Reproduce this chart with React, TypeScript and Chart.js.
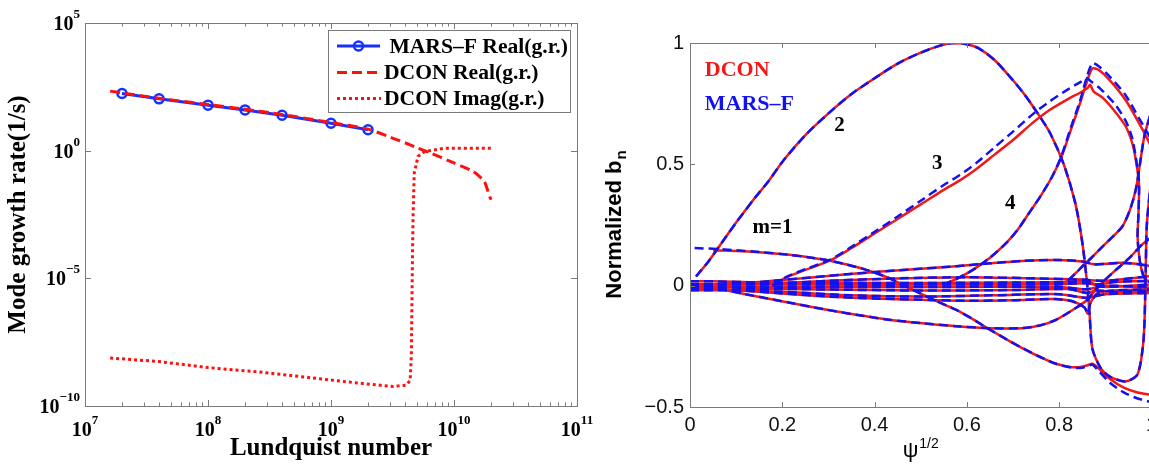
import React, { useEffect, useRef } from 'react';
import { Chart, registerables } from 'chart.js';

Chart.register(...registerables);

// ---------------- Left panel data ----------------
const marsLundquist = [2e7, 4e7, 1e8, 2e8, 4e8, 1e9, 2e9];
const marsRealRate = [173, 107, 60.4, 39.5, 24.5, 11.9, 6.57];

const dconRealLundquist = [1.6e7, 2e7, 4e7, 1e8, 2e8, 4e8, 1e9, 2e9, 3.2e9, 4.4e9, 5e9, 6.3e9, 1e10, 1.43e10, 1.76e10, 1.95e10, 2e10];
const dconRealRate = [215, 182, 113, 64, 42, 26, 12.7, 7.0, 3.05, 1.7, 1.3, 0.85, 0.33, 0.154, 0.063, 0.016, 0.012];

const dconImagLundquist = [1.6e7, 4e7, 1e8, 2.5e8, 9e8, 1.7e9, 3.2e9, 4.1e9, 4.4e9, 4.5e9, 4.55e9, 4.6e9, 4.65e9, 4.75e9, 5.1e9, 5.8e9, 8.3e9, 2e10];
const dconImagRate = [7.6e-9, 5.5e-9, 3.2e-9, 2.2e-9, 1.1e-9, 7.8e-10, 5.8e-10, 6.6e-10, 1.0e-9, 1e-8, 1e-6, 1e-4, 3e-3, 0.13, 0.6, 0.93, 1.25, 1.25];

const leftXDecades = [1e7, 1e8, 1e9, 1e10, 1e11];
const leftYDecades = [1e-10, 1e-5, 1, 1e5];
const leftLegendLabels = [' MARS\u2013F Real(g.r.)', 'DCON Real(g.r.)', 'DCON Imag(g.r.)'];

// ---------------- Right panel data (psi^1/2, normalized b_n) ----------------
const m1Dcon: number[][] = [[0.05, 0.145], [0.1, 0.143], [0.15, 0.138], [0.216, 0.127], [0.26, 0.116], [0.303, 0.103], [0.34, 0.087], [0.382, 0.065], [0.42, 0.04], [0.447, 0.017], [0.49, -0.024], [0.53, -0.06], [0.577, -0.1], [0.61, -0.135], [0.649, -0.18], [0.685, -0.22], [0.72, -0.257], [0.76, -0.295], [0.793, -0.322], [0.828, -0.336], [0.85, -0.334], [0.862, -0.328], [0.872, -0.322], [0.885, -0.34], [0.91, -0.385], [0.94, -0.42], [0.97, -0.44], [1.0, -0.45]];
const m1Mars: number[][] = [[0.01, 0.155], [0.05, 0.152], [0.1, 0.146], [0.15, 0.139], [0.216, 0.127], [0.26, 0.116], [0.303, 0.103], [0.34, 0.087], [0.382, 0.065], [0.42, 0.04], [0.447, 0.017], [0.49, -0.024], [0.53, -0.06], [0.577, -0.1], [0.61, -0.135], [0.649, -0.18], [0.685, -0.22], [0.72, -0.257], [0.76, -0.295], [0.793, -0.322], [0.828, -0.338], [0.85, -0.338], [0.862, -0.332], [0.872, -0.325], [0.885, -0.35], [0.91, -0.4], [0.94, -0.44], [0.97, -0.465], [1.0, -0.48]];
const m2Both: number[][] = [[0.013, 0.038], [0.04, 0.1], [0.07, 0.18], [0.1, 0.26], [0.14, 0.36], [0.17, 0.43], [0.2, 0.51], [0.25, 0.62], [0.3, 0.71], [0.35, 0.79], [0.4, 0.855], [0.45, 0.915], [0.5, 0.96], [0.54, 0.988], [0.57, 1.0], [0.6, 0.995], [0.625, 0.979], [0.66, 0.93], [0.69, 0.868], [0.72, 0.8], [0.75, 0.72], [0.78, 0.63], [0.81, 0.5], [0.835, 0.34], [0.85, 0.18], [0.86, 0.02], [0.866, -0.12], [0.872, -0.26], [0.89, -0.34], [0.91, -0.375], [0.944, -0.395], [0.97, -0.365], [0.983, -0.22], [0.987, 0.0], [0.99, 0.25], [1.0, 0.45]];
const m3Dcon: number[][] = [[0.178, 0.0], [0.21, 0.035], [0.25, 0.065], [0.303, 0.103], [0.35, 0.155], [0.4, 0.215], [0.45, 0.275], [0.5, 0.335], [0.55, 0.395], [0.584, 0.433], [0.62, 0.48], [0.66, 0.54], [0.7, 0.6], [0.745, 0.675], [0.78, 0.725], [0.82, 0.77], [0.845, 0.795], [0.862, 0.815], [0.867, 0.828], [0.875, 0.8], [0.894, 0.775], [0.92, 0.72], [0.944, 0.657], [0.958, 0.59], [0.966, 0.52], [0.973, 0.42], [0.972, 0.3], [0.97, 0.2], [0.975, 0.1], [0.985, 0.03], [1.0, 0.01]];
const m3Mars: number[][] = [[0.178, 0.0], [0.21, 0.037], [0.25, 0.068], [0.303, 0.106], [0.35, 0.16], [0.4, 0.222], [0.45, 0.285], [0.5, 0.35], [0.55, 0.415], [0.584, 0.455], [0.62, 0.505], [0.66, 0.57], [0.7, 0.635], [0.745, 0.71], [0.78, 0.76], [0.82, 0.81], [0.845, 0.838], [0.86, 0.855], [0.87, 0.84], [0.89, 0.81], [0.92, 0.75], [0.944, 0.68], [0.958, 0.61], [0.966, 0.53], [0.973, 0.43], [0.972, 0.3], [0.97, 0.2], [0.975, 0.1], [0.985, 0.03], [1.0, 0.01]];
const m4Dcon: number[][] = [[0.548, 0.003], [0.58, 0.03], [0.613, 0.065], [0.65, 0.115], [0.685, 0.175], [0.71, 0.23], [0.735, 0.3], [0.76, 0.37], [0.785, 0.45], [0.805, 0.53], [0.825, 0.64], [0.845, 0.75], [0.86, 0.84], [0.872, 0.895], [0.885, 0.89], [0.908, 0.85], [0.944, 0.765], [0.973, 0.67], [0.99, 0.61], [1.0, 0.57]];
const m4Mars: number[][] = [[0.548, 0.003], [0.58, 0.03], [0.613, 0.065], [0.65, 0.115], [0.685, 0.175], [0.71, 0.23], [0.735, 0.3], [0.76, 0.37], [0.785, 0.45], [0.805, 0.535], [0.825, 0.65], [0.845, 0.76], [0.86, 0.86], [0.872, 0.917], [0.885, 0.905], [0.908, 0.865], [0.944, 0.785], [0.973, 0.69], [0.99, 0.635], [1.0, 0.6]];
const lowA: number[][] = [[0, -0.005], [0.058, -0.012], [0.12, -0.035], [0.216, -0.07], [0.29, -0.097], [0.36, -0.12], [0.43, -0.14], [0.504, -0.155], [0.577, -0.167], [0.649, -0.175], [0.72, -0.175], [0.76, -0.163], [0.793, -0.141], [0.836, -0.092], [0.86, -0.06], [0.879, -0.017], [0.9, 0.025], [0.92, 0.06], [0.95, 0.11], [0.98, 0.17], [1.0, 0.2]];
const lowB: number[][] = [[0, -0.008], [0.1, -0.018], [0.2, -0.032], [0.3, -0.045], [0.4, -0.053], [0.5, -0.058], [0.6, -0.062], [0.7, -0.06], [0.79, -0.055], [0.83, -0.065], [0.855, -0.09], [0.862, -0.115], [0.868, -0.07], [0.885, -0.03], [0.92, -0.02], [1.0, -0.015]];
const lowC: number[][] = [[0, -0.012], [0.1, -0.02], [0.2, -0.025], [0.35, -0.04], [0.5, -0.045], [0.65, -0.04], [0.8, -0.035], [0.86, -0.05], [0.9, -0.035], [1.0, -0.03]];
const upA: number[][] = [[0, 0.005], [0.1, 0.008], [0.18, 0.02], [0.27, 0.035], [0.36, 0.05], [0.47, 0.066], [0.577, 0.08], [0.65, 0.092], [0.72, 0.102], [0.793, 0.106], [0.85, 0.1], [0.875, 0.088], [0.9, 0.09], [0.93, 0.094], [0.966, 0.09], [1.0, 0.08]];
const upB: number[][] = [[0, 0.004], [0.18, 0.008], [0.3, 0.02], [0.45, 0.03], [0.6, 0.035], [0.75, 0.03], [0.85, 0.025], [0.9, 0.02], [1.0, 0.04]];
const riseR: number[][] = [[0.79, 0.005], [0.814, 0.015], [0.835, 0.05], [0.85, 0.079], [0.87, 0.115], [0.894, 0.161], [0.915, 0.2], [0.937, 0.244], [0.953, 0.31], [0.966, 0.395], [0.975, 0.5], [0.985, 0.62], [1.0, 0.72]];
const band1: number[][] = [[0, 0.018], [0.05, 0.018], [0.15, 0.013], [0.3, 0.012], [0.5, 0.011], [0.7, 0.013], [0.82, 0.015], [0.86, 0.02], [0.88, 0.005], [0.92, 0.015], [1.0, 0.02]];
const band2: number[][] = [[0, 0.006], [0.2, 0.005], [0.4, 0.004], [0.6, 0.005], [0.8, 0.006], [0.86, 0.01], [0.9, -0.005], [1.0, 0.005]];
const band3: number[][] = [[0, -0.006], [0.2, -0.005], [0.4, -0.006], [0.6, -0.005], [0.8, -0.005], [0.86, -0.015], [0.9, 0.0], [1.0, -0.008]];
const band4: number[][] = [[0, -0.019], [0.05, -0.019], [0.15, -0.013], [0.3, -0.016], [0.5, -0.02], [0.7, -0.018], [0.82, -0.014], [0.86, -0.03], [0.88, -0.02], [0.92, -0.025], [1.0, -0.02]];

const dconCurves = [m1Dcon, m2Both, m3Dcon, m4Dcon, lowA, lowB, lowC, upA, upB, riseR, band1, band2, band3, band4];
const marsCurves = [m1Mars, m2Both, m3Mars, m4Mars, lowA, lowB, lowC, upA, upB, riseR, band1, band2, band3, band4];

const rightXTicks = [0, 0.2, 0.4, 0.6, 0.8, 1];
const rightYTicks = [-0.5, 0, 0.5, 1];
const curveLabels = ['m=1', '2', '3', '4'];
const curveLabelPsi = [0.179, 0.324, 0.536, 0.694];
const curveLabelBn = [0.238, 0.659, 0.502, 0.337];
const methodNames = ['DCON', 'MARS\u2013F'];
const methodPsi = [0.032, 0.032];
const methodBn = [0.888, 0.748];

// ---------------- styling ----------------
const RED = '#ff1010';
const BLUE = '#1530ff';
const R_RED = '#f01818';
const R_BLUE = '#1212f0';
const FRAME = '#7a7a7a';
const SERIF = '"Liberation Serif", "Times New Roman", serif';
const SANS = '"Liberation Sans", Arial, sans-serif';
const BASE_FONT = `bold 20px ${SERIF}`;
const EXP_FONT = `bold 13px ${SERIF}`;

const isDecade = (v: number) => Math.abs(Math.log10(v) - Math.round(Math.log10(v))) < 1e-6;
const exponentText = (v: number) => String(Math.round(Math.log10(v))).replace('-', '\u2212');
const pts = (xs: number[], ys: number[]) => xs.map((x, i) => ({ x, y: ys[i] }));
const pairPts = (arr: number[][]) => arr.map(([x, y]) => ({ x, y }));

const leftDecor = {
  id: 'leftDecor',
  afterDraw(chart: any) {
    const { ctx, chartArea: a, scales } = chart;
    const xs = scales.x;
    const ys = scales.y;
    ctx.save();
    ctx.strokeStyle = FRAME;
    ctx.lineWidth = 1;
    ctx.strokeRect(a.left + 0.5, a.top + 0.5, a.right - a.left, a.bottom - a.top);
    ctx.beginPath();
    xs.ticks.forEach((t: any) => {
      const px = Math.round(xs.getPixelForValue(t.value)) + 0.5;
      const len = isDecade(t.value) ? 6 : 3.5;
      ctx.moveTo(px, a.bottom); ctx.lineTo(px, a.bottom - len);
      ctx.moveTo(px, a.top); ctx.lineTo(px, a.top + len);
    });
    ys.ticks.forEach((t: any) => {
      const py = Math.round(ys.getPixelForValue(t.value)) + 0.5;
      ctx.moveTo(a.left, py); ctx.lineTo(a.left + 6, py);
      ctx.moveTo(a.right, py); ctx.lineTo(a.right - 6, py);
    });
    ctx.stroke();

    // tick labels 10^k
    ctx.fillStyle = '#000';
    ctx.textBaseline = 'alphabetic';
    ctx.textAlign = 'left';
    xs.ticks.forEach((t: any) => {
      if (!isDecade(t.value)) return;
      const px = xs.getPixelForValue(t.value);
      const e = exponentText(t.value);
      ctx.font = BASE_FONT;
      const wb = ctx.measureText('10').width;
      ctx.font = EXP_FONT;
      const we = ctx.measureText(e).width;
      const x0 = px - (wb + we) / 2;
      ctx.font = BASE_FONT;
      ctx.fillText('10', x0, a.bottom + 30);
      ctx.font = EXP_FONT;
      ctx.fillText(e, x0 + wb, a.bottom + 18);
    });
    ys.ticks.forEach((t: any) => {
      const py = ys.getPixelForValue(t.value);
      const e = exponentText(t.value);
      ctx.font = BASE_FONT;
      const wb = ctx.measureText('10').width;
      ctx.font = EXP_FONT;
      const we = ctx.measureText(e).width;
      const x0 = a.left - 5 - wb - we;
      ctx.font = BASE_FONT;
      ctx.fillText('10', x0, py + 7);
      ctx.font = EXP_FONT;
      ctx.fillText(e, x0 + wb, py - 5);
    });

    // legend box
    const bw = 242, bh = 82;
    const bx = a.right - 7 - bw;
    const by = a.top + 7;
    ctx.fillStyle = '#ffffff';
    ctx.fillRect(bx, by, bw, bh);
    ctx.strokeStyle = FRAME;
    ctx.lineWidth = 1;
    ctx.strokeRect(Math.round(bx) + 0.5, Math.round(by) + 0.5, bw, bh);
    const rows = [by + 16, by + 42.5, by + 68.5];
    const sx0 = bx + 9, sx1 = bx + 52;
    ctx.strokeStyle = BLUE; ctx.lineWidth = 3; ctx.setLineDash([]);
    ctx.beginPath(); ctx.moveTo(sx0, rows[0]); ctx.lineTo(sx1, rows[0]); ctx.stroke();
    ctx.lineWidth = 2.5;
    ctx.beginPath(); ctx.arc((sx0 + sx1) / 2, rows[0], 4.5, 0, Math.PI * 2); ctx.stroke();
    ctx.strokeStyle = RED; ctx.lineWidth = 3; ctx.setLineDash([10, 5]);
    ctx.beginPath(); ctx.moveTo(sx0, rows[1]); ctx.lineTo(sx1, rows[1]); ctx.stroke();
    ctx.setLineDash([3, 3]);
    ctx.beginPath(); ctx.moveTo(sx0, rows[2]); ctx.lineTo(sx1 + 1, rows[2]); ctx.stroke();
    ctx.setLineDash([]);
    ctx.fillStyle = '#000';
    ctx.font = `bold 21.6px ${SERIF}`;
    ctx.textBaseline = 'middle';
    ctx.textAlign = 'left';
    leftLegendLabels.forEach((lab, i) => ctx.fillText(lab, bx + 56, rows[i] + 1));
    ctx.restore();
  },
};

const rightDecor = {
  id: 'rightDecor',
  afterDraw(chart: any) {
    const { ctx, chartArea: a, scales } = chart;
    const xs = scales.x;
    const ys = scales.y;
    ctx.save();
    ctx.strokeStyle = FRAME;
    ctx.lineWidth = 1;
    ctx.strokeRect(a.left + 0.5, a.top + 0.5, a.right - a.left, a.bottom - a.top);
    ctx.beginPath();
    xs.ticks.forEach((t: any) => {
      const px = Math.round(xs.getPixelForValue(t.value)) + 0.5;
      ctx.moveTo(px, a.bottom); ctx.lineTo(px, a.bottom - 5);
      ctx.moveTo(px, a.top); ctx.lineTo(px, a.top + 5);
    });
    ys.ticks.forEach((t: any) => {
      const py = Math.round(ys.getPixelForValue(t.value)) + 0.5;
      ctx.moveTo(a.left, py); ctx.lineTo(a.left + 5, py);
    });
    ctx.stroke();

    ctx.textBaseline = 'middle';
    ctx.textAlign = 'left';
    ctx.font = `bold 22px ${SERIF}`;
    methodNames.forEach((n, i) => {
      ctx.fillStyle = i === 0 ? R_RED : R_BLUE;
      ctx.fillText(n, xs.getPixelForValue(methodPsi[i]), ys.getPixelForValue(methodBn[i]));
    });
    ctx.fillStyle = '#000';
    ctx.font = `bold 21px ${SERIF}`;
    ctx.textAlign = 'center';
    curveLabels.forEach((n, i) => {
      ctx.fillText(n, xs.getPixelForValue(curveLabelPsi[i]), ys.getPixelForValue(curveLabelBn[i]));
    });

    // y title: Normalized b_n
    ctx.fillStyle = '#000';
    ctx.textAlign = 'left';
    ctx.textBaseline = 'alphabetic';
    const mainFont = `bold 22px ${SANS}`;
    const subFont = `bold 15px ${SANS}`;
    ctx.font = mainFont;
    const w1 = ctx.measureText('Normalized b').width;
    ctx.font = subFont;
    const w2 = ctx.measureText('n').width;
    const cy = (a.top + a.bottom) / 2;
    ctx.save();
    ctx.translate(41, cy);
    ctx.rotate(-Math.PI / 2);
    ctx.font = mainFont;
    ctx.fillText('Normalized b', -(w1 + w2) / 2, 0);
    ctx.font = subFont;
    ctx.fillText('n', -(w1 + w2) / 2 + w1 + 1, 5);
    ctx.restore();

    // x title: psi^{1/2}
    const psiFont = `22px ${SANS}`;
    const supFont = `14px ${SANS}`;
    ctx.font = psiFont;
    const p1 = ctx.measureText('\u03C8').width;
    ctx.font = supFont;
    const p2 = ctx.measureText('1/2').width;
    const cx = (a.left + a.right) / 2;
    const start = cx - (p1 + p2 + 1) / 2;
    ctx.font = psiFont;
    ctx.fillText('\u03C8', start, 457);
    ctx.font = supFont;
    ctx.fillText('1/2', start + p1 + 1, 448);
    ctx.restore();
  },
};

export default function App() {
  const leftRef = useRef<HTMLCanvasElement>(null);
  const rightRef = useRef<HTMLCanvasElement>(null);

  useEffect(() => {
    const leftChart = new Chart(leftRef.current as HTMLCanvasElement, {
      type: 'line',
      data: {
        datasets: [
          { label: 'DCON Real(g.r.)', data: pts(dconRealLundquist, dconRealRate), borderColor: RED, borderWidth: 3, borderDash: [10, 5], pointRadius: 0, tension: 0.2, order: 0 },
          { label: 'MARS-F Real(g.r.)', data: pts(marsLundquist, marsRealRate), borderColor: BLUE, borderWidth: 3, pointRadius: 4.5, pointBorderWidth: 2.5, pointBorderColor: BLUE, pointBackgroundColor: 'rgba(255,255,255,0)', tension: 0, order: 1 },
          { label: 'DCON Imag(g.r.)', data: pts(dconImagLundquist, dconImagRate), borderColor: RED, borderWidth: 3, borderDash: [3, 3], pointRadius: 0, tension: 0, order: 2 },
        ] as any,
      },
      options: {
        animation: false,
        responsive: false,
        devicePixelRatio: 1,
        layout: { padding: { left: 0, top: 23, right: 23, bottom: 0 } },
        plugins: { legend: { display: false }, tooltip: { enabled: false } },
        scales: {
          x: {
            type: 'logarithmic',
            min: 1e7,
            max: 1e11,
            afterBuildTicks: (s: any) => {
              const t: any[] = [];
              leftXDecades.forEach((d, i) => {
                if (i < leftXDecades.length - 1) {
                  for (let k = 1; k <= 9; k++) t.push({ value: d * k });
                } else t.push({ value: d });
              });
              s.ticks = t;
            },
            afterFit: (s: any) => { s.height = 60; },
            grid: { display: false, drawTicks: false },
            border: { display: false },
            ticks: { display: false, autoSkip: false },
            title: { display: true, text: 'Lundquist number', color: '#000', font: { family: SERIF, weight: 'bold', size: 25 }, padding: { top: 0, bottom: 2.4 } },
          },
          y: {
            type: 'logarithmic',
            min: 1e-10,
            max: 1e5,
            afterBuildTicks: (s: any) => { s.ticks = leftYDecades.map((v) => ({ value: v })); },
            afterFit: (s: any) => { s.width = 85; },
            grid: { display: false, drawTicks: false },
            border: { display: false },
            ticks: { display: false, autoSkip: false },
            title: { display: true, text: 'Mode growth rate(1/s)', color: '#000', font: { family: SERIF, weight: 'bold', size: 25 }, padding: { top: 4, bottom: 0 } },
          },
        },
      } as any,
      plugins: [leftDecor],
    });

    const rightDatasets: any[] = [];
    dconCurves.forEach((c, i) => {
      rightDatasets.push({ label: 'DCON ' + i, data: pairPts(c), borderColor: R_RED, borderWidth: 2.5, pointRadius: 0, tension: 0.25, order: 1 });
    });
    marsCurves.forEach((c, i) => {
      rightDatasets.push({ label: 'MARS-F ' + i, data: pairPts(c), borderColor: R_BLUE, borderWidth: 2.5, borderDash: [9, 5], pointRadius: 0, tension: 0.25, order: 0 });
    });

    const rightChart = new Chart(rightRef.current as HTMLCanvasElement, {
      type: 'line',
      data: { datasets: rightDatasets },
      options: {
        animation: false,
        responsive: false,
        devicePixelRatio: 1,
        layout: { padding: { left: 0, top: 43, right: 10, bottom: 0 } },
        plugins: { legend: { display: false }, tooltip: { enabled: false } },
        scales: {
          x: {
            type: 'linear',
            min: 0,
            max: 1,
            afterBuildTicks: (s: any) => { s.ticks = rightXTicks.map((v) => ({ value: v })); },
            afterFit: (s: any) => { s.height = 59; },
            grid: { display: false, drawTicks: false },
            border: { display: false },
            ticks: {
              autoSkip: false,
              maxRotation: 0,
              padding: 6,
              color: '#111',
              font: { family: SANS, size: 20 },
              callback: (v: any) => String(Number(Number(v).toFixed(1))),
            },
          },
          y: {
            type: 'linear',
            min: -0.5,
            max: 1,
            afterBuildTicks: (s: any) => { s.ticks = rightYTicks.map((v) => ({ value: v })); },
            afterFit: (s: any) => { s.width = 110; },
            grid: { display: false, drawTicks: false },
            border: { display: false },
            ticks: {
              autoSkip: false,
              padding: 6,
              color: '#111',
              font: { family: SANS, size: 20 },
              callback: (v: any) => {
                const n = Number(Number(v).toFixed(1));
                return n < 0 ? '\u2212' + String(-n) : String(n);
              },
            },
          },
        },
      } as any,
      plugins: [rightDecor],
    });

    return () => {
      leftChart.destroy();
      rightChart.destroy();
    };
  }, []);

  return (
    <div style={{ position: 'absolute', left: 0, top: 0, width: 1149, height: 466, overflow: 'hidden', background: '#ffffff' }}>
      <canvas ref={leftRef} width={600} height={466} style={{ position: 'absolute', left: 0, top: 0, width: 600, height: 466 }} />
      <canvas ref={rightRef} width={583} height={466} style={{ position: 'absolute', left: 580, top: 0, width: 583, height: 466 }} />
    </div>
  );
}
